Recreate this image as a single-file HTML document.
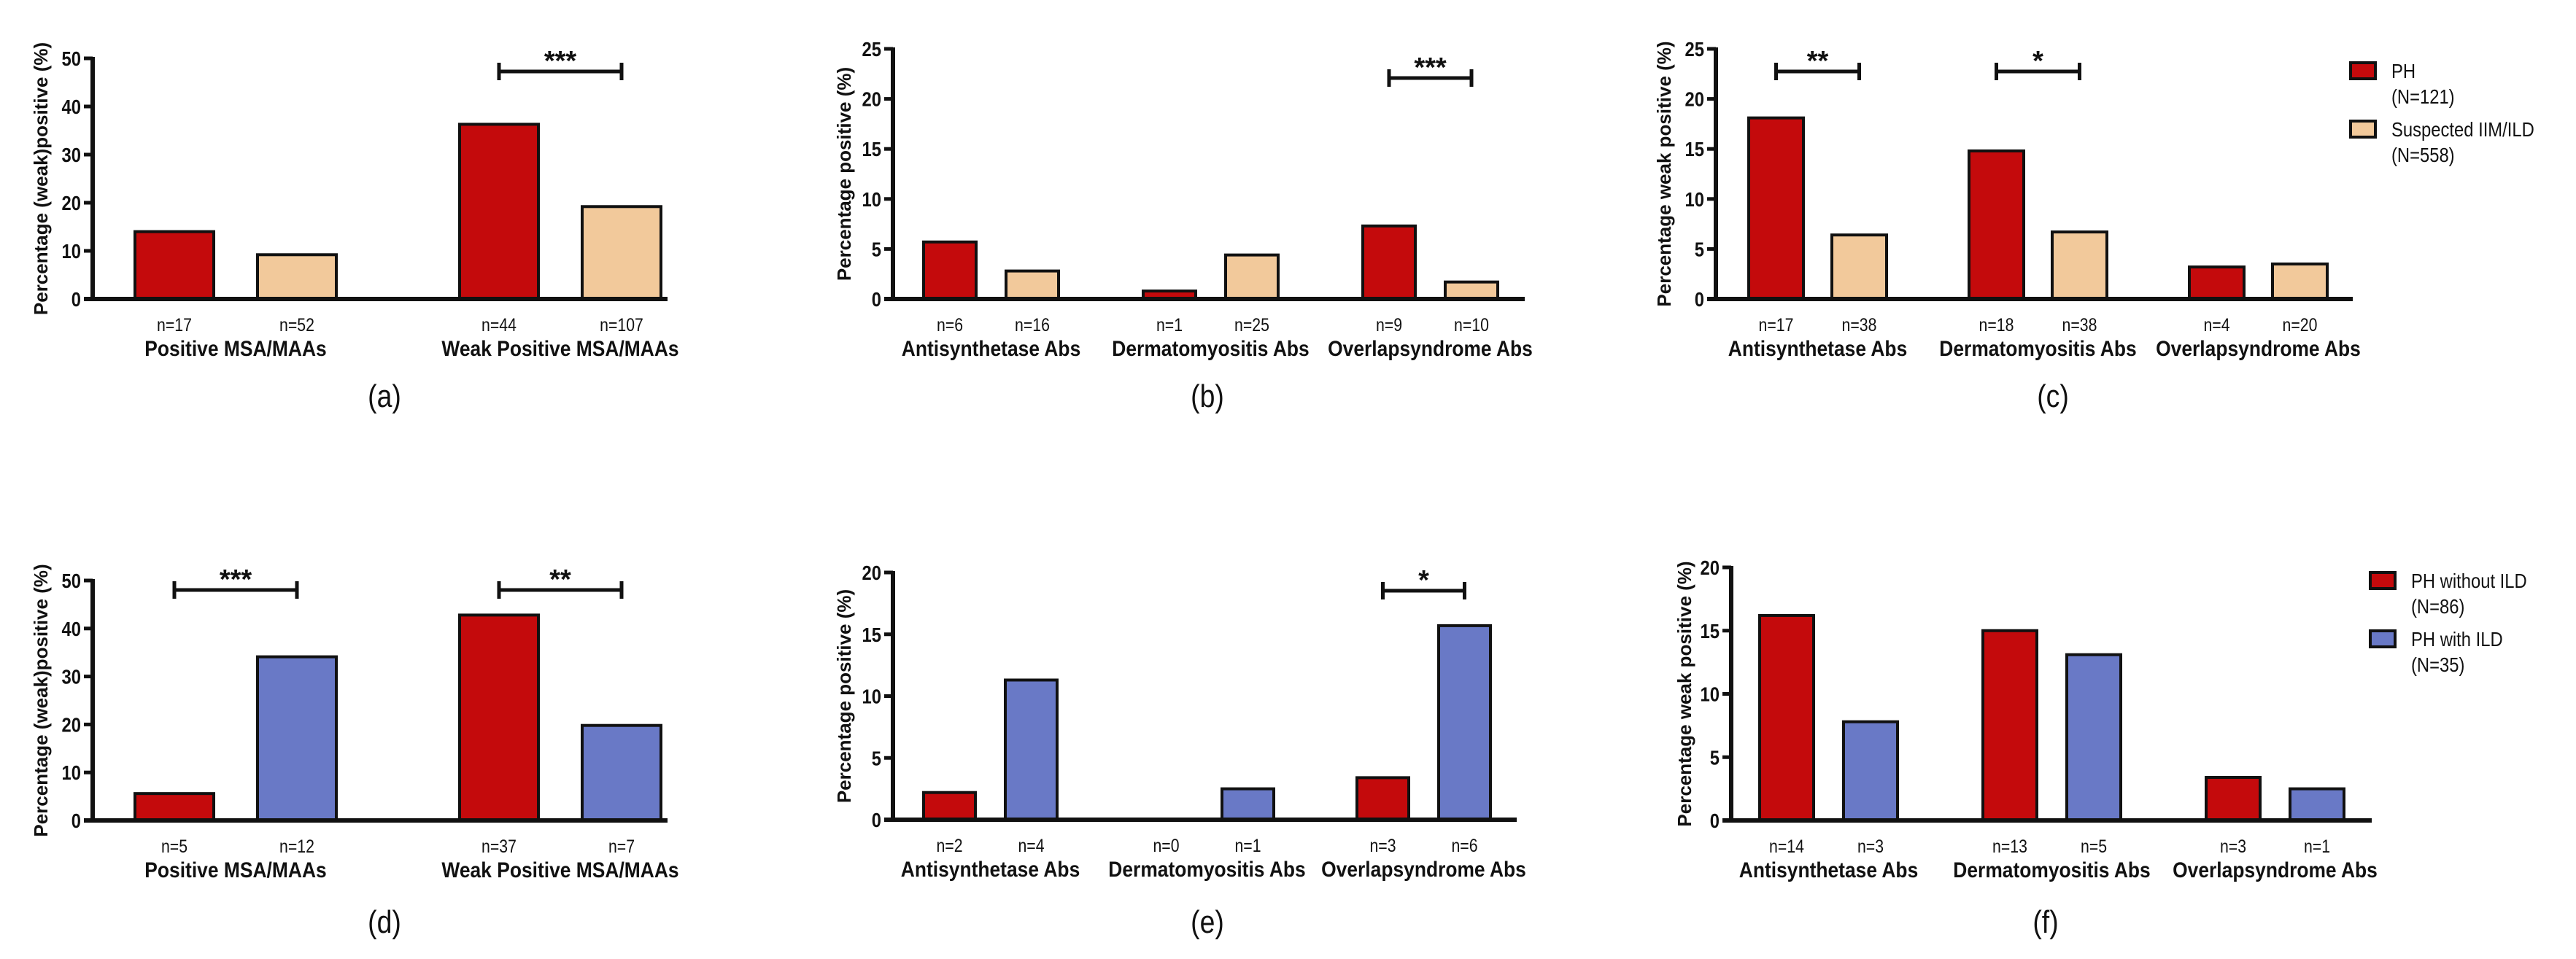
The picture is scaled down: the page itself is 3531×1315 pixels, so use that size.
<!DOCTYPE html>
<html><head><meta charset="utf-8">
<style>
html,body{margin:0;padding:0;background:#fff;}
svg{display:block;}
.tick{font-family:"Liberation Sans Narrow","Liberation Sans",sans-serif;font-weight:bold;font-size:28px;fill:#111;}
.nlab{font-family:"Liberation Sans Narrow","Liberation Sans",sans-serif;font-size:25px;fill:#111;}
.cat{font-family:"Liberation Sans Narrow","Liberation Sans",sans-serif;font-weight:bold;font-size:30px;fill:#111;}
.ytitle{font-family:"Liberation Sans",sans-serif;font-weight:bold;font-size:26px;fill:#111;}
.plab{font-family:"Liberation Sans Narrow","Liberation Sans",sans-serif;font-size:44px;fill:#111;}
.star{font-family:"Liberation Sans",sans-serif;font-weight:bold;font-size:38px;fill:#111;}
.leg{font-family:"Liberation Sans Narrow","Liberation Sans",sans-serif;font-size:28px;fill:#111;}
</style></head>
<body>
<svg id="fig" width="3531" height="1315" viewBox="0 0 3531 1315" xmlns="http://www.w3.org/2000/svg"></svg>
<script>
// ---- data ----
const catsMSA = ["Positive MSA/MAAs", "Weak Positive MSA/MAAs"];
const catsAbs = ["Antisynthetase Abs", "Dermatomyositis Abs", "Overlapsyndrome Abs"];

const aPH = [14, 36.3];
const aIIM = [9.2, 19.2];
const aN1 = ["n=17", "n=44"];
const aN2 = ["n=52", "n=107"];

const bPH = [5.7, 0.8, 7.3];
const bIIM = [2.8, 4.4, 1.7];
const bN1 = ["n=6", "n=1", "n=9"];
const bN2 = ["n=16", "n=25", "n=10"];

const cPH = [18.1, 14.8, 3.2];
const cIIM = [6.4, 6.7, 3.5];
const cN1 = ["n=17", "n=18", "n=4"];
const cN2 = ["n=38", "n=38", "n=20"];

const dNoILD = [5.6, 42.8];
const dILD = [34.1, 19.8];
const dN1 = ["n=5", "n=37"];
const dN2 = ["n=12", "n=7"];

const eNoILD = [2.2, 0, 3.4];
const eILD = [11.3, 2.5, 15.7];
const eN1 = ["n=2", "n=0", "n=3"];
const eN2 = ["n=4", "n=1", "n=6"];

const fNoILD = [16.2, 15.0, 3.4];
const fILD = [7.8, 13.1, 2.5];
const fN1 = ["n=14", "n=13", "n=3"];
const fN2 = ["n=3", "n=5", "n=1"];

const ticks50 = [0, 10, 20, 30, 40, 50];
const ticks25 = [0, 5, 10, 15, 20, 25];
const ticks20 = [0, 5, 10, 15, 20];

// ---- rendering ----
const NS = "http://www.w3.org/2000/svg";
const svg = document.getElementById("fig");
const RED = "#c40a0c", TAN = "#f2c99b", BLUE = "#6979c6";
const NARROW = {tick: 0.85, nlab: 0.85, cat: 0.88, plab: 0.85, leg: 0.85};

function mk(tag, attrs, parent, txt) {
  const e = document.createElementNS(NS, tag);
  for (const k in attrs) e.setAttribute(k, attrs[k]);
  if (txt !== undefined) e.textContent = txt;
  (parent || svg).appendChild(e);
  if (tag === "text" && NARROW[attrs["class"]]) {
    const w = e.getComputedTextLength();
    if (w > 0) {
      e.setAttribute("textLength", (w * NARROW[attrs["class"]]).toFixed(1));
      e.setAttribute("lengthAdjust", "spacingAndGlyphs");
    }
  }
  return e;
}

function panel(cfg) {
  const g = mk("g", {});
  
  
  const ys = v => cfg.y0 - (v / cfg.max) * (cfg.y0 - cfg.y1);
  cfg.cats.forEach((c, i) => {
    const xa = cfg.bx + i * cfg.pitch;
    const xb = xa + cfg.bw + cfg.gap;
    [[xa, cfg.s1[i], cfg.c1, cfg.n1[i]], [xb, cfg.s2[i], cfg.c2, cfg.n2[i]]].forEach((b, j) => {
      const v = b[1];
      if (v > 0) {
        const r = mk("rect", {x: b[0], y: ys(v), width: cfg.bw, height: cfg.y0 - ys(v), fill: b[2], stroke: "#111", "stroke-width": 4}, g);
        
        
      }
      const t = mk("text", {x: b[0] + cfg.bw / 2, y: cfg.y0 + 44, "text-anchor": "middle", class: "nlab"}, g, b[3]);
      
      
    });
    const cx = xa + cfg.bw + cfg.gap / 2;
    const ct = mk("text", {x: cx, y: cfg.y0 + 78, "text-anchor": "middle", class: "cat"}, g, c);
    
    
  });
  const ya = mk("line", {x1: cfg.ax, y1: cfg.y1 - 2, x2: cfg.ax, y2: cfg.y0 + 3, stroke: "#111", "stroke-width": 6}, g);
  
  
  const xaL = mk("line", {x1: cfg.ax - 12, y1: cfg.y0, x2: cfg.xe, y2: cfg.y0, stroke: "#111", "stroke-width": 6}, g);
  
  
  cfg.ticks.forEach(t => {
    mk("line", {x1: cfg.ax - 12, y1: ys(t), x2: cfg.ax, y2: ys(t), stroke: "#111", "stroke-width": 5}, g);
    const tl = mk("text", {x: cfg.ax - 16, y: ys(t) + 10, "text-anchor": "end", class: "tick"}, g, String(t));
    
    
  });
  const ymid = (cfg.y0 + cfg.y1) / 2;
  const yt = mk("text", {x: cfg.tx, y: ymid, "text-anchor": "middle", class: "ytitle", transform: "rotate(-90 " + cfg.tx + " " + ymid + ")", "dominant-baseline": "central"}, g, cfg.ytitle);
  
  
  (cfg.sig || []).forEach(s => {
    const x1 = cfg.bx + s[0] * cfg.pitch + cfg.bw / 2;
    const x2 = x1 + cfg.bw + cfg.gap;
    const sy = s[2];
    mk("line", {x1: x1, y1: sy, x2: x2, y2: sy, stroke: "#111", "stroke-width": 5}, g);
    mk("line", {x1: x1, y1: sy - 12, x2: x1, y2: sy + 12, stroke: "#111", "stroke-width": 5}, g);
    mk("line", {x1: x2, y1: sy - 12, x2: x2, y2: sy + 12, stroke: "#111", "stroke-width": 5}, g);
    const st = mk("text", {x: (x1 + x2) / 2, y: sy - 2, "text-anchor": "middle", class: "star"}, g, s[1]);
    
    
  });
  const pl = mk("text", {x: cfg.lx, y: cfg.ly, "text-anchor": "middle", class: "plab"}, g, cfg.label);
  
  
}

function legend(x, y, entries, name) {
  const g = mk("g", {});
  
  
  entries.forEach((e, i) => {
    const yy = y + i * 80;
    const r = mk("rect", {x: x, y: yy, width: 34, height: 22, fill: e[0], stroke: "#111", "stroke-width": 4}, g);
    
    
    const t1 = mk("text", {x: x + 56, y: yy + 21, class: "leg"}, g, e[1]);
    
    
    mk("text", {x: x + 56, y: yy + 56, class: "leg"}, g, e[2]);
  });
}

panel({name: "panel-a", key: "a", label: "(a)", cats: catsMSA, s1: aPH, s2: aIIM, n1: aN1, n2: aN2, c1: RED, c2: TAN,
  ticks: ticks50, max: 50, y0: 410, y1: 80, ax: 127, xe: 915, bx: 185, bw: 108, gap: 60, pitch: 445,
  tx: 56, ytitle: "Percentage (weak)positive (%)", sig: [[1, "***", 98]], lx: 527, ly: 558});
panel({name: "panel-b", key: "b", label: "(b)", cats: catsAbs, s1: bPH, s2: bIIM, n1: bN1, n2: bN2, c1: RED, c2: TAN,
  ticks: ticks25, max: 25, y0: 410, y1: 67, ax: 1224, xe: 2090, bx: 1266, bw: 72, gap: 41, pitch: 301,
  tx: 1157, ytitle: "Percentage positive (%)", sig: [[2, "***", 107]], lx: 1655, ly: 558});
panel({name: "panel-c", key: "c", label: "(c)", cats: catsAbs, s1: cPH, s2: cIIM, n1: cN1, n2: cN2, c1: RED, c2: TAN,
  ticks: ticks25, max: 25, y0: 410, y1: 67, ax: 2352, xe: 3225, bx: 2397, bw: 75, gap: 39, pitch: 302,
  tx: 2281, ytitle: "Percentage weak positive (%)", sig: [[0, "**", 98], [1, "*", 98]], lx: 2814, ly: 558});
panel({name: "panel-d", key: "d", label: "(d)", cats: catsMSA, s1: dNoILD, s2: dILD, n1: dN1, n2: dN2, c1: RED, c2: BLUE,
  ticks: ticks50, max: 50, y0: 1125, y1: 796, ax: 127, xe: 915, bx: 185, bw: 108, gap: 60, pitch: 445,
  tx: 56, ytitle: "Percentage (weak)positive (%)", sig: [[0, "***", 809], [1, "**", 809]], lx: 527, ly: 1279});
panel({name: "panel-e", key: "e", label: "(e)", cats: catsAbs, s1: eNoILD, s2: eILD, n1: eN1, n2: eN2, c1: RED, c2: BLUE,
  ticks: ticks20, max: 20, y0: 1124, y1: 785, ax: 1224, xe: 2079, bx: 1266, bw: 71, gap: 41, pitch: 297,
  tx: 1157, ytitle: "Percentage positive (%)", sig: [[2, "*", 810]], lx: 1655, ly: 1279});
panel({name: "panel-f", key: "f", label: "(f)", cats: catsAbs, s1: fNoILD, s2: fILD, n1: fN1, n2: fN2, c1: RED, c2: BLUE,
  ticks: ticks20, max: 20, y0: 1125, y1: 778, ax: 2373, xe: 3251, bx: 2412, bw: 74, gap: 41, pitch: 306,
  tx: 2309, ytitle: "Percentage weak positive (%)", sig: [], lx: 2804, ly: 1279});

legend(3222, 86, [[RED, "PH", "(N=121)"], [TAN, "Suspected IIM/ILD", "(N=558)"]], "legend-top");
legend(3249, 785, [[RED, "PH without ILD", "(N=86)"], [BLUE, "PH with ILD", "(N=35)"]], "legend-bottom");
</script>
</body></html>
